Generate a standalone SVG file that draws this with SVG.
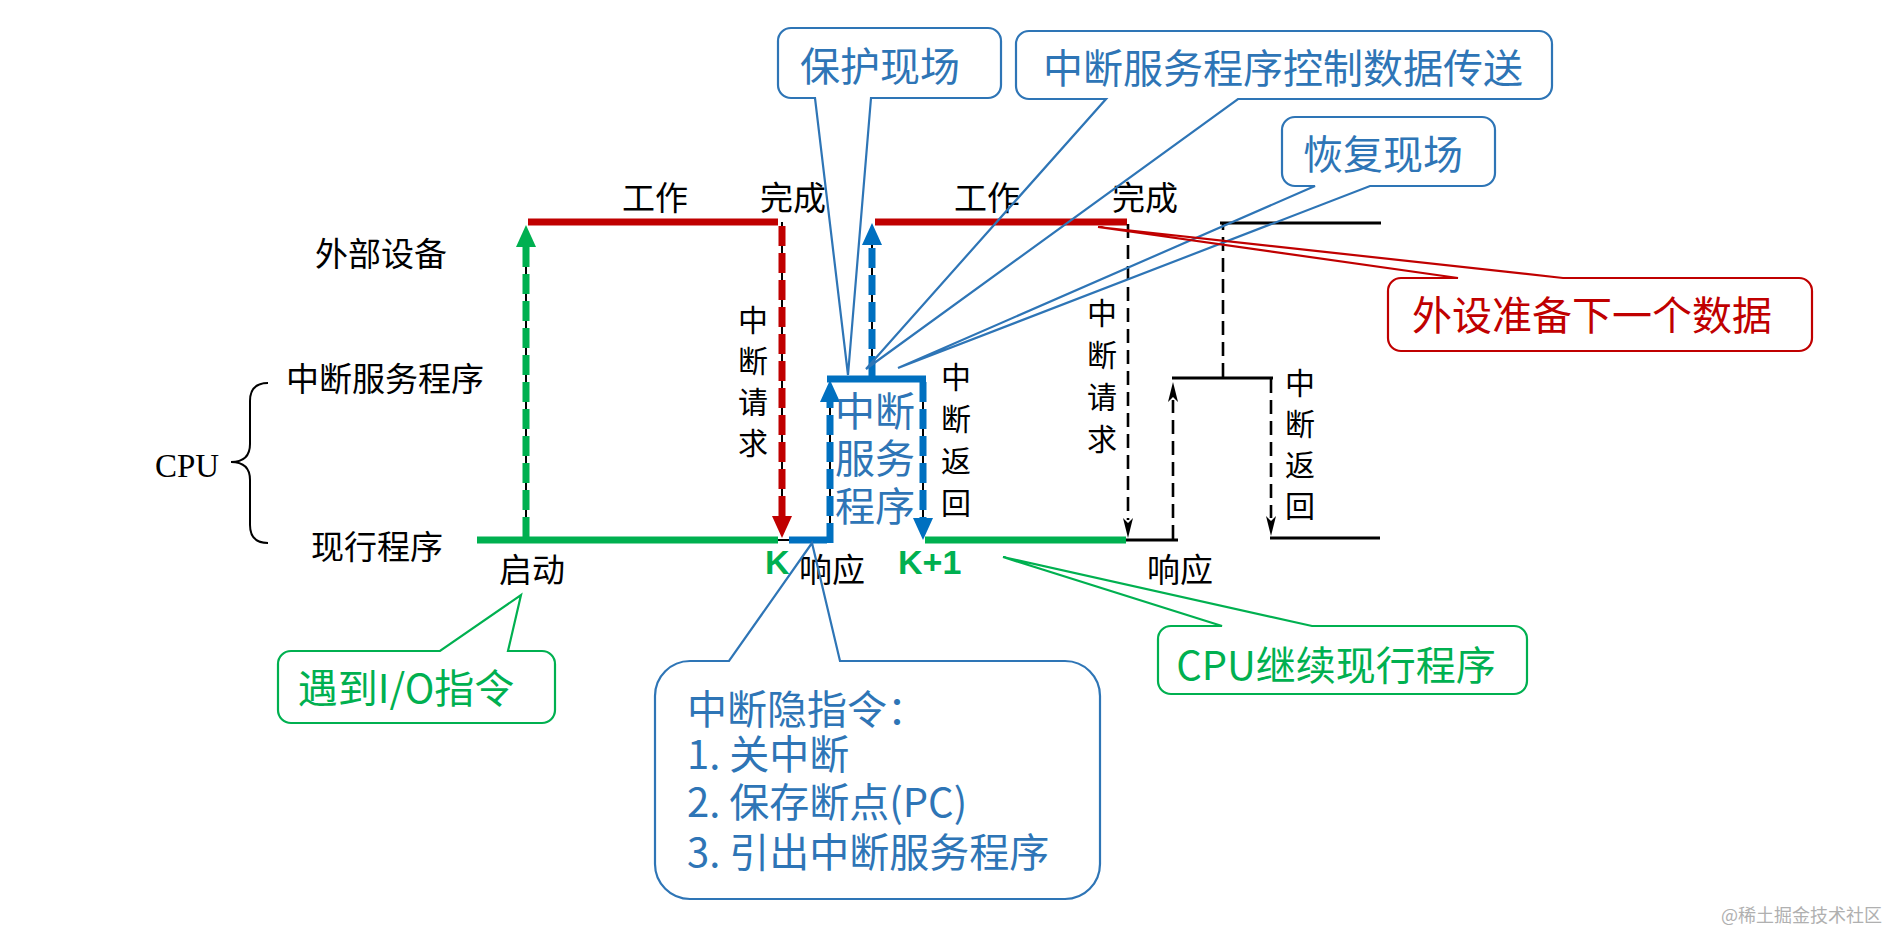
<svg xmlns="http://www.w3.org/2000/svg" width="1888" height="932" viewBox="0 0 1888 932">
<defs>
<style>
.lbl{font-family:"Noto Sans CJK SC","Liberation Serif",serif;font-size:33px;fill:#000;text-anchor:middle}
.vl{font-family:"Noto Sans CJK SC","Liberation Serif",serif;font-size:30px;fill:#000;text-anchor:middle}
.co{font-family:"Noto Sans CJK SC","Liberation Sans",sans-serif;font-size:40px}
.mid{text-anchor:middle}
.tb{fill:#2E75B6}
.tr{fill:#C00000}
.tg{fill:#00B050}
.cb{fill:none;stroke:#2E75B6;stroke-width:2.2}
.cr{fill:none;stroke:#C00000;stroke-width:2.2}
.cg{fill:none;stroke:#00B050;stroke-width:2.2}
.sr{stroke:#C00000;stroke-width:7;fill:none}
.sg{stroke:#00B050;stroke-width:7;fill:none}
.sb{stroke:#0070C0;stroke-width:7;fill:none}
.sk{stroke:#000;stroke-width:3;fill:none}
.thin{stroke:#000;stroke-width:2;fill:none}
.dr{stroke:#C00000;stroke-width:7;stroke-dasharray:20 7;fill:none}
.dg{stroke:#00B050;stroke-width:7;stroke-dasharray:20 7;fill:none}
.db{stroke:#0070C0;stroke-width:7;stroke-dasharray:20 7;fill:none}
.dk{stroke:#000;stroke-width:2.6;stroke-dasharray:14 7;fill:none}
.kk{font-family:"Liberation Sans","Noto Sans",sans-serif;font-weight:bold;font-size:34px;fill:#00B050}
</style>
<marker id="ar" viewBox="0 0 22 20" refX="0" refY="10" markerWidth="22" markerHeight="20" markerUnits="userSpaceOnUse" orient="auto"><path d="M0,0 L22,10 L0,20 Z" fill="#C00000"/></marker>
<marker id="ag" viewBox="0 0 22 20" refX="0" refY="10" markerWidth="22" markerHeight="20" markerUnits="userSpaceOnUse" orient="auto"><path d="M0,0 L22,10 L0,20 Z" fill="#00B050"/></marker>
<marker id="ab" viewBox="0 0 22 20" refX="0" refY="10" markerWidth="22" markerHeight="20" markerUnits="userSpaceOnUse" orient="auto"><path d="M0,0 L22,10 L0,20 Z" fill="#0070C0"/></marker>
<marker id="ak" viewBox="0 0 20 10" refX="2" refY="5" markerWidth="20" markerHeight="10" markerUnits="userSpaceOnUse" orient="auto"><path d="M0,0 L20,5 L0,10 L5,5 Z" fill="#000"/></marker>
</defs>
<rect width="1888" height="932" fill="#fff"/>

<g id="connectors">
  <line class="thin" x1="526" y1="540" x2="526" y2="245"/>
  <line class="thin" x1="782" y1="222" x2="782" y2="518"/>
  <line class="thin" x1="830" y1="540" x2="830" y2="400"/>
  <line class="thin" x1="872" y1="378" x2="872" y2="245"/>
  <line class="thin" x1="923" y1="379" x2="923" y2="520"/>
  <line class="thin" x1="778" y1="540" x2="790" y2="540"/>

  <line class="sr" x1="528" y1="222" x2="778" y2="222"/>
  <line class="sg" x1="477" y1="540" x2="778" y2="540"/>
  <line class="dg" x1="526" y1="537" x2="526" y2="247" marker-end="url(#ag)"/>
  <line class="dr" x1="782" y1="226" x2="782" y2="516" marker-end="url(#ar)"/>
  <line class="sb" x1="789" y1="540" x2="827" y2="540"/>
  <line class="db" x1="830" y1="543" x2="830" y2="402" marker-end="url(#ab)"/>
  <line class="sb" x1="827" y1="379" x2="926" y2="379"/>
  <line class="db" x1="872" y1="376" x2="872" y2="245" marker-end="url(#ab)"/>
  <line class="db" x1="923" y1="382" x2="923" y2="518" marker-end="url(#ab)"/>
  <line class="sr" x1="875" y1="222" x2="1127" y2="222"/>
  <line class="sg" x1="925" y1="540" x2="1126" y2="540"/>
  <line class="dk" x1="1128" y1="224" x2="1128" y2="520" marker-end="url(#ak)"/>
  <line class="sk" x1="1126" y1="540" x2="1178" y2="540"/>
  <line class="dk" x1="1173" y1="539" x2="1173" y2="400" marker-end="url(#ak)"/>
  <line class="sk" x1="1172" y1="378" x2="1273" y2="378"/>
  <line class="dk" x1="1223" y1="377" x2="1223" y2="224"/>
  <line class="sk" x1="1220" y1="223" x2="1381" y2="223"/>
  <line class="dk" x1="1271" y1="379" x2="1271" y2="518" marker-end="url(#ak)"/>
  <line class="sk" x1="1270" y1="538" x2="1380" y2="538"/>
  <path class="thin" stroke-width="2.6" d="M268,383 Q250,383 250,401 V444 Q250,462 231,462 Q250,462 250,480 V525 Q250,543 268,543"/>
</g>

<g id="labels">
  <text class="lbl" x="655" y="210">工作</text>
  <text class="lbl" x="793" y="210">完成</text>
  <text class="lbl" x="987" y="210">工作</text>
  <text class="lbl" x="1145" y="210">完成</text>
  <text class="lbl" x="381" y="266">外部设备</text>
  <text class="lbl" x="385" y="391">中断服务程序</text>
  <text class="lbl" x="377" y="559">现行程序</text>
  <text x="155" y="477" font-family="Liberation Serif,serif" font-size="33" fill="#000">CPU</text>
  <text class="lbl" x="532" y="582">启动</text>
  <text class="lbl" x="832" y="582">响应</text>
  <text class="lbl" x="1180" y="582">响应</text>
  <text class="kk" x="765" y="574">K</text>
  <text class="kk" x="898" y="574">K+1</text>
  <text class="vl"><tspan x="753" y="331">中</tspan><tspan x="753" y="372">断</tspan><tspan x="753" y="413">请</tspan><tspan x="753" y="454">求</tspan></text>
  <text class="vl"><tspan x="956" y="388">中</tspan><tspan x="956" y="430">断</tspan><tspan x="956" y="472">返</tspan><tspan x="956" y="514">回</tspan></text>
  <text class="vl"><tspan x="1102" y="324">中</tspan><tspan x="1102" y="366">断</tspan><tspan x="1102" y="408">请</tspan><tspan x="1102" y="450">求</tspan></text>
  <text class="vl"><tspan x="1300" y="394">中</tspan><tspan x="1300" y="435">断</tspan><tspan x="1300" y="476">返</tspan><tspan x="1300" y="517">回</tspan></text>
  <text class="co tb mid"><tspan x="875" y="426">中断</tspan><tspan x="875" y="473">服务</tspan><tspan x="875" y="521">程序</tspan></text>
</g>

<g id="callout-protect">
  <path class="cb" d="M791,28 H988 A13,13 0 0 1 1001,41 V85 A13,13 0 0 1 988,98 H871 L848,375 L815,98 H791 A13,13 0 0 1 778,85 V41 A13,13 0 0 1 791,28 Z"/>
  <text class="co tb mid" x="880" y="81">保护现场</text>
</g>
<g id="callout-transfer">
  <path class="cb" d="M1029,31 H1539 A13,13 0 0 1 1552,44 V86 A13,13 0 0 1 1539,99 H1238 L866,369 L1106,99 H1029 A13,13 0 0 1 1016,86 V44 A13,13 0 0 1 1029,31 Z"/>
  <text class="co tb mid" x="1283" y="83">中断服务程序控制数据传送</text>
</g>
<g id="callout-restore">
  <path class="cb" d="M1295,117 H1482 A13,13 0 0 1 1495,130 V173 A13,13 0 0 1 1482,186 H1370 L898,368 L1315,186 H1295 A13,13 0 0 1 1282,173 V130 A13,13 0 0 1 1295,117 Z"/>
  <text class="co tb mid" x="1383" y="169">恢复现场</text>
</g>
<g id="callout-nextdata">
  <path class="cr" d="M1401,278 H1458 L1098,227 L1563,278 H1799 A13,13 0 0 1 1812,291 V338 A13,13 0 0 1 1799,351 H1401 A13,13 0 0 1 1388,338 V291 A13,13 0 0 1 1401,278 Z"/>
  <text class="co tr mid" x="1592" y="330">外设准备下一个数据</text>
</g>
<g id="callout-io">
  <path class="cg" d="M291,651 H440 L521,595 L508,651 H542 A13,13 0 0 1 555,664 V710 A13,13 0 0 1 542,723 H291 A13,13 0 0 1 278,710 V664 A13,13 0 0 1 291,651 Z"/>
  <text class="co tg mid" x="406" y="703">遇到I/O指令</text>
</g>
<g id="callout-hidden">
  <path class="cb" d="M690,661 H729 L812,543 L840,661 H1065 A35,35 0 0 1 1100,696 V864 A35,35 0 0 1 1065,899 H690 A35,35 0 0 1 655,864 V696 A35,35 0 0 1 690,661 Z"/>
  <text class="co tb"><tspan x="687" y="724">中断隐指令：</tspan><tspan x="687" y="769">1. 关中断</tspan><tspan x="687" y="817">2. 保存断点(PC)</tspan><tspan x="687" y="867">3. 引出中断服务程序</tspan></text>
</g>
<g id="callout-continue">
  <path class="cg" d="M1171,626 H1222 L1003,557 L1312,626 H1514 A13,13 0 0 1 1527,639 V681 A13,13 0 0 1 1514,694 H1171 A13,13 0 0 1 1158,681 V639 A13,13 0 0 1 1171,626 Z"/>
  <text class="co tg mid" x="1336" y="680">CPU继续现行程序</text>
</g>
<text x="1882" y="922" text-anchor="end" font-family="Noto Sans CJK SC,sans-serif" font-size="18" fill="#b0b0b0">@稀土掘金技术社区</text>
</svg>
